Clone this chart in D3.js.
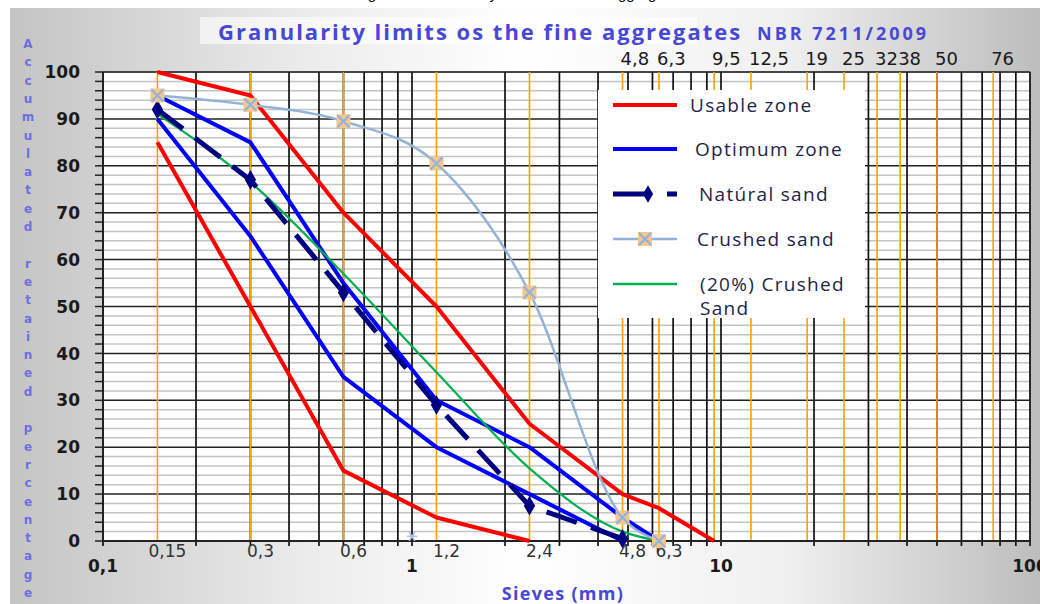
<!DOCTYPE html>
<html>
<head>
<meta charset="utf-8">
<script src="https://cdn.jsdelivr.net/npm/d3@7"></script>
<style>
  body { margin: 0; background: #fff; }
  svg { display: block; }
</style>
</head>
<body>
<svg width="1040" height="604"></svg>
<script>
// sieve openings (mm)
var sieves = [0.15, 0.3, 0.6, 1.2, 2.4, 4.8, 6.3, 9.5, 12.5, 19, 25, 32, 38, 50, 76];
var bottomSieves = [0.15, 0.3, 0.6, 1.2, 2.4, 4.8, 6.3];
var bottomLabels = ["0,15", "0,3", "0,6", "1,2", "2,4", "4,8", "6,3"];
var topSieves = [4.8, 6.3, 9.5, 12.5, 19, 25, 32, 38, 50, 76];
var topLabels = ["4,8", "6,3", "9,5", "12,5", "19", "25", "32", "38", "50", "76"];
var decades = [0.1, 1, 10, 100];
var decadeLabels = ["0,1", "1", "10", "100"];
var yTicks = [0, 10, 20, 30, 40, 50, 60, 70, 80, 90, 100];

// NBR 7211 limits
var usableLowX = [0.15, 0.3, 0.6, 1.2, 2.4];
var usableLowY = [85, 50, 15, 5, 0];
var usableHighX = [0.15, 0.3, 0.6, 1.2, 2.4, 4.8, 6.3, 9.5];
var usableHighY = [100, 95, 70, 50, 25, 10, 7, 0];
var optimumLowX = [0.15, 0.3, 0.6, 1.2, 2.4, 4.8];
var optimumLowY = [90, 65, 35, 20, 10, 0];
var optimumHighX = [0.15, 0.3, 0.6, 1.2, 2.4, 4.8, 6.3];
var optimumHighY = [95, 85, 55, 30, 20, 5, 0];

// samples
var naturalX = [0.15, 0.3, 0.6, 1.2, 2.4, 4.8];
var naturalY = [92, 77, 53, 29, 7.5, 0.5];
var crushedX = [0.15, 0.3, 0.6, 1.2, 2.4, 4.8, 6.3];
var crushedY = [95, 93, 89.5, 80.5, 53, 5, 0];
var mixX = [0.15, 0.3, 0.6, 1.2, 2.4, 4.8, 6.3];
var mixY = [91, 76.5, 57, 36, 15.5, 2, 0];
var strayX = [1];
var strayY = [1];

var svg = d3.select("svg"),
    width = +svg.attr("width"),
    height = +svg.attr("height");

var x = d3.scaleLog().domain([0.1, 100]).range([103, 1030]);
var y = d3.scaleLinear().domain([0, 100]).range([541, 72]);

function pts(xs, ys) { return xs.map(function(v, i) { return [v, ys[i]]; }); }

// background
var defs = svg.append("defs");
var grad = defs.append("linearGradient").attr("id", "bg").attr("x1", "0").attr("x2", "1").attr("y1", "0").attr("y2", "0");
[[0, "#c4c4c4"], [0.3, "#ededed"], [0.5, "#ffffff"], [0.75, "#f0f0f0"], [1, "#bdbdbd"]].forEach(function(s) {
  grad.append("stop").attr("offset", s[0]).attr("stop-color", s[1]);
});
svg.append("rect").attr("x", 10).attr("y", 8).attr("width", width - 10).attr("height", height - 8).attr("fill", "url(#bg)");

// caption above (cut off by the page edge, only descenders show)
svg.append("text").attr("x", 520).attr("y", -1).attr("text-anchor", "middle")
  .attr("font-family", "Liberation Sans, Arial, sans-serif").attr("font-size", 15).attr("fill", "#000")
  .text("Figure 3 - Granularity limits of the fine aggregates");

// title
svg.append("rect").attr("x", 200).attr("y", 17).attr("width", 497).attr("height", 27).attr("fill", "#fff").attr("opacity", 0.6);
svg.append("text").attr("x", 218).attr("y", 40)
  .attr("font-family", "Open Sans, sans-serif").attr("font-weight", "bold").attr("font-size", 22)
  .attr("letter-spacing", 2).attr("fill", "#4848d4").text("Granularity limits os the fine aggregates");
svg.append("text").attr("x", 757).attr("y", 40)
  .attr("font-family", "Open Sans, sans-serif").attr("font-weight", "bold").attr("font-size", 18)
  .attr("letter-spacing", 3).attr("fill", "#4848d4").text("NBR 7211/2009");

// plot area
svg.append("rect").attr("x", 103).attr("y", 72).attr("width", 927).attr("height", 469).attr("fill", "#fff")
  .attr("stroke", "#9a9a9a").attr("stroke-width", 1.5);

var grid = svg.append("g");
// minor horizontal
grid.selectAll(".hmin").data(d3.range(2, 100, 2).filter(function(d) { return d % 10; }))
  .enter().append("line")
  .attr("x1", 103).attr("x2", 1030)
  .attr("y1", function(d) { return y(d); }).attr("y2", function(d) { return y(d); })
  .attr("stroke", "#c4c4c4").attr("stroke-width", 1.5);

// vertical log grid
var logGrid = [];
[0.1, 1, 10].forEach(function(dec) { for (var k = 1; k < 10; k++) logGrid.push(dec * k); });
logGrid.push(100);
grid.selectAll(".vg").data(logGrid).enter().append("line")
  .attr("x1", function(d) { return x(d); }).attr("x2", function(d) { return x(d); })
  .attr("y1", 72).attr("y2", 546)
  .attr("stroke", "#111").attr("stroke-width", 1.7);

// major horizontal
grid.selectAll(".hmaj").data(yTicks.slice(1)).enter().append("line")
  .attr("x1", 103).attr("x2", 1030)
  .attr("y1", function(d) { return y(d); }).attr("y2", function(d) { return y(d); })
  .attr("stroke", "#222").attr("stroke-width", 1.5);

// sieve lines
grid.selectAll(".sv").data(sieves).enter().append("line")
  .attr("x1", function(d) { return x(d); }).attr("x2", function(d) { return x(d); })
  .attr("y1", 72).attr("y2", 541)
  .attr("stroke", "#ffa000").attr("stroke-width", 1.6);

// y ticks every 2
grid.selectAll(".yt").data(d3.range(0, 101, 2)).enter().append("line")
  .attr("x1", 95).attr("x2", 103)
  .attr("y1", function(d) { return y(d); }).attr("y2", function(d) { return y(d); })
  .attr("stroke", "#222").attr("stroke-width", 1.5);

// axes lines
svg.append("line").attr("x1", 103).attr("x2", 103).attr("y1", 72).attr("y2", 541).attr("stroke", "#222").attr("stroke-width", 2);
svg.append("line").attr("x1", 103).attr("x2", 1030).attr("y1", 541).attr("y2", 541).attr("stroke", "#222").attr("stroke-width", 2);

// y labels
svg.selectAll(".yl").data(yTicks).enter().append("text")
  .attr("x", 80).attr("y", function(d) { return y(d); }).attr("dy", "0.36em")
  .attr("text-anchor", "end")
  .attr("font-family", "DejaVu Sans, sans-serif").attr("font-weight", "bold").attr("font-size", 17)
  .attr("fill", "#1a1a1a").text(function(d) { return d; });

// decade labels
svg.selectAll(".dl").data(decades).enter().append("text")
  .attr("x", function(d) { return x(d); }).attr("y", 572).attr("text-anchor", "middle")
  .attr("font-family", "DejaVu Sans, sans-serif").attr("font-weight", "bold").attr("font-size", 17)
  .attr("fill", "#1a1a1a").text(function(d, i) { return decadeLabels[i]; });

// sieve labels bottom
svg.selectAll(".bl").data(bottomSieves).enter().append("text")
  .attr("x", function(d) { return x(d) + 10; }).attr("y", 557).attr("text-anchor", "middle")
  .attr("font-family", "DejaVu Sans, sans-serif").attr("font-size", 17)
  .attr("fill", "#333").text(function(d, i) { return bottomLabels[i]; });

// sieve labels top
svg.selectAll(".tl").data(topSieves).enter().append("text")
  .attr("x", function(d) { return x(d) - 2; }).attr("y", 65)
  .attr("font-family", "DejaVu Sans, sans-serif").attr("font-size", 18)
  .attr("fill", "#1a1a1a").text(function(d, i) { return topLabels[i]; });

// y axis title (stacked letters)
var yTitle = "Accumulated retained percentage".split("");
svg.selectAll(".ya").data(yTitle).enter().append("text")
  .attr("x", 28).attr("y", function(d, i) { return 48 + i * 18.3; })
  .attr("text-anchor", "middle")
  .attr("font-family", "DejaVu Sans, sans-serif").attr("font-weight", "bold").attr("font-size", 12)
  .attr("fill", "#6e6ee0").text(function(d) { return d; });

// x axis title
svg.append("text").attr("x", 563).attr("y", 600).attr("text-anchor", "middle")
  .attr("font-family", "Open Sans, sans-serif").attr("font-weight", "bold").attr("font-size", 18)
  .attr("letter-spacing", 1.3).attr("fill", "#4848d4").text("Sieves (mm)");

// series
var line = d3.line().x(function(d) { return x(d[0]); }).y(function(d) { return y(d[1]); });
var smooth = d3.line().x(function(d) { return x(d[0]); }).y(function(d) { return y(d[1]); }).curve(d3.curveMonotoneX);

var series = svg.append("g").attr("fill", "none").attr("stroke-linejoin", "round");

[[usableLowX, usableLowY, "#ff0000"], [usableHighX, usableHighY, "#ff0000"],
 [optimumLowX, optimumLowY, "#0000ff"], [optimumHighX, optimumHighY, "#0000ff"]].forEach(function(s) {
  series.append("path").attr("d", line(pts(s[0], s[1]))).attr("stroke", s[2]).attr("stroke-width", 4);
});

series.append("path").attr("d", smooth(pts(mixX, mixY))).attr("stroke", "#00b050").attr("stroke-width", 2.2);

series.append("path").attr("d", line(pts(naturalX, naturalY))).attr("stroke", "#000080")
  .attr("stroke-width", 5).attr("stroke-dasharray", "32,15");

series.append("path").attr("d", smooth(pts(crushedX, crushedY))).attr("stroke", "#95b3d7").attr("stroke-width", 2.5);

var diamond = d3.symbol().type(d3.symbolDiamond).size(110);
svg.selectAll(".nm").data(pts(naturalX, naturalY)).enter().append("path")
  .attr("d", diamond).attr("fill", "#000080")
  .attr("transform", function(d) { return "translate(" + x(d[0]) + "," + y(d[1]) + ")"; });

function crushedMarker(sel) {
  sel.append("rect").attr("x", -7).attr("y", -7).attr("width", 14).attr("height", 14).attr("fill", "#f9c68a");
  sel.append("path").attr("d", "M-6,-6L6,6M6,-6L-6,6").attr("stroke", "#8db3e2").attr("stroke-width", 2.2);
}
svg.selectAll(".cm").data(pts(crushedX, crushedY)).enter().append("g")
  .attr("transform", function(d) { return "translate(" + x(d[0]) + "," + y(d[1]) + ")"; })
  .call(crushedMarker);

// stray point
svg.selectAll(".st").data(pts(strayX, strayY)).enter().append("path")
  .attr("d", "M-5,0H5M-3,-4.5L3,4.5M3,-4.5L-3,4.5")
  .attr("stroke", "#a9bfe6").attr("stroke-width", 1.5)
  .attr("transform", function(d) { return "translate(" + x(d[0]) + "," + y(d[1]) + ")"; });

// legend
var legend = svg.append("g");
legend.append("rect").attr("x", 598).attr("y", 90).attr("width", 267).attr("height", 228).attr("fill", "#fff");
var legFont = "Open Sans, sans-serif";
function legText(tx, ty, t) {
  legend.append("text").attr("x", tx).attr("y", ty).attr("dy", "0.35em")
    .attr("font-family", legFont).attr("font-size", 19).attr("letter-spacing", 1.3)
    .attr("fill", "#23234a").text(t);
}
legend.append("line").attr("x1", 613).attr("x2", 677).attr("y1", 105).attr("y2", 105).attr("stroke", "#ff0000").attr("stroke-width", 4);
legText(690, 105, "Usable zone");
legend.append("line").attr("x1", 613).attr("x2", 677).attr("y1", 149).attr("y2", 149).attr("stroke", "#0000ff").attr("stroke-width", 4);
legText(695, 149, "Optimum zone");
legend.append("line").attr("x1", 613).attr("x2", 677).attr("y1", 194).attr("y2", 194).attr("stroke", "#000080").attr("stroke-width", 5).attr("stroke-dasharray", "38,16");
legend.append("path").attr("d", diamond.size(90)).attr("fill", "#000080").attr("transform", "translate(648,194)");
legText(699, 194, "Natúral sand");
legend.append("line").attr("x1", 613).attr("x2", 677).attr("y1", 239).attr("y2", 239).attr("stroke", "#95b3d7").attr("stroke-width", 2.5);
legend.append("g").attr("transform", "translate(645,239)").call(crushedMarker);
legText(697, 239, "Crushed sand");
legend.append("line").attr("x1", 613).attr("x2", 677).attr("y1", 284).attr("y2", 284).attr("stroke", "#00b050").attr("stroke-width", 2.5);
legText(700, 284, "(20%) Crushed");
legText(700, 308, "Sand");
</script>
</body>
</html>
